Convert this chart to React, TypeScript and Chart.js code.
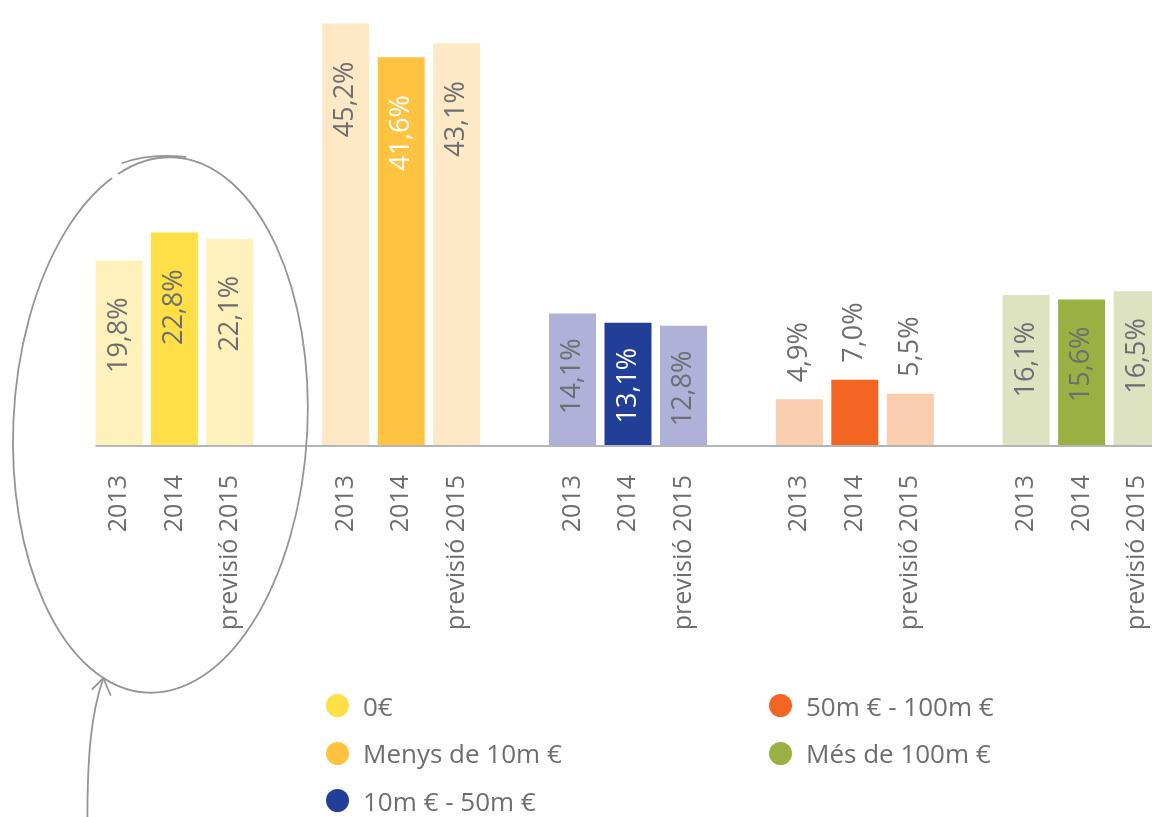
import React, { useEffect, useRef } from 'react';
import { Chart, registerables } from 'chart.js';

Chart.register(...registerables);

// ---- data ----
const groups = ['0€', 'Menys de 10m €', '10m € - 50m €', '50m € - 100m €', 'Més de 100m €'];
const periods = ['2013', '2014', 'previsió 2015'];
const values2013 = [19.8, 45.2, 14.1, 4.9, 16.1];
const values2014 = [22.8, 41.6, 13.1, 7.0, 15.6];
const values2015 = [22.1, 43.1, 12.8, 5.5, 16.5];

// ---- style ----
const lightColors = ['#FFF1BC', '#FEE8C6', '#AFB1D8', '#F9CDAD', '#DDE3C1'];
const darkColors = ['#FFDF47', '#FFC341', '#223F98', '#F26522', '#9AB042'];
const darkLabelColors = ['#6D6E71', '#FFFFFF', '#FFFFFF', '#6D6E71', '#6D6E71'];
const labelInsets = [37, 38, 25, -17, 27]; // negative: label sits above the bar
const TEXT = '#6D6E71';
const FONT = '"Open Sans", "Noto Sans", sans-serif';
const legendOrder = [0, 1, 2, 3, 4];

const fmt = (v: number) => v.toFixed(1).replace('.', ',') + '%';

const decorPlugin = {
  id: 'decor',
  beforeDatasetsDraw(chart: any) {
    const ctx = chart.ctx;
    const first = chart.getDatasetMeta(0).data[0];
    const y0 = chart.scales.y.getPixelForValue(0);
    ctx.save();
    ctx.strokeStyle = '#B5B5B7';
    ctx.lineWidth = 2;
    ctx.beginPath();
    ctx.moveTo(first.x - first.width / 2, y0 + 1);
    ctx.lineTo(chart.width, y0 + 1);
    ctx.stroke();
    ctx.restore();
  },
  afterDatasetsDraw(chart: any) {
    const ctx = chart.ctx;
    const y0 = chart.scales.y.getPixelForValue(0);
    chart.data.datasets.forEach((ds: any, di: number) => {
      const meta = chart.getDatasetMeta(di);
      meta.data.forEach((bar: any, gi: number) => {
        const v = ds.data[gi];
        const inset = labelInsets[gi];
        ctx.save();
        ctx.translate(bar.x, bar.y + inset);
        ctx.rotate(-Math.PI / 2);
        ctx.font = `27px ${FONT}`;
        ctx.textAlign = inset >= 0 ? 'right' : 'left';
        ctx.textBaseline = 'middle';
        ctx.fillStyle = di === 1 ? darkLabelColors[gi] : TEXT;
        ctx.fillText(fmt(v), 0, 0);
        ctx.restore();

        ctx.save();
        ctx.translate(bar.x, y0 + 30);
        ctx.rotate(-Math.PI / 2);
        ctx.font = `25px ${FONT}`;
        ctx.textAlign = 'right';
        ctx.textBaseline = 'middle';
        ctx.fillStyle = TEXT;
        ctx.fillText(periods[di], 0, 0);
        ctx.restore();
      });
    });

    // hand-drawn highlight around the first group
    const gx = chart.scales.x.getPixelForValue(0);
    const cx = gx - 14;
    const cy = y0 - 20;
    ctx.save();
    ctx.strokeStyle = '#939598';
    ctx.lineWidth = 1.8;
    ctx.lineCap = 'round';
    ctx.beginPath();
    ctx.ellipse(cx, cy, 147, 268, 0.05, -1.95, -1.95 + Math.PI * 2 - 0.05);
    ctx.stroke();
    ctx.beginPath();
    ctx.moveTo(cx - 38, cy - 262);
    ctx.quadraticCurveTo(cx - 10, cy - 272, cx + 25, cy - 268);
    ctx.stroke();
    // arrow
    ctx.beginPath();
    ctx.moveTo(cx - 73, cy + 395);
    ctx.bezierCurveTo(cx - 73, cy + 335, cx - 70, cy + 290, cx - 57, cy + 253);
    ctx.stroke();
    ctx.beginPath();
    ctx.moveTo(cx - 68, cy + 264);
    ctx.lineTo(cx - 57, cy + 253);
    ctx.lineTo(cx - 50, cy + 270);
    ctx.stroke();
    ctx.restore();
  },
};

export default function App() {
  const canvasRef = useRef<HTMLCanvasElement | null>(null);

  useEffect(() => {
    const canvas = canvasRef.current;
    if (!canvas) return;
    const mk = (label: string, data: number[], colors: string[]) => ({
      label,
      data,
      backgroundColor: colors,
      borderWidth: 0,
      categoryPercentage: 0.7341,
      barPercentage: 0.8468,
    });
    const chart = new Chart(canvas, {
      type: 'bar',
      data: {
        labels: groups,
        datasets: [
          mk(periods[0], values2013, lightColors),
          mk(periods[1], values2014, darkColors),
          mk(periods[2], values2015, lightColors),
        ],
      },
      options: {
        responsive: false,
        animation: false,
        devicePixelRatio: 1,
        layout: { padding: { left: 61, right: 0, top: 18, bottom: 372 } },
        plugins: { legend: { display: false }, tooltip: { enabled: false } },
        scales: {
          x: { display: false },
          y: { display: false, min: 0, max: 45.8 },
        },
      },
      plugins: [decorPlugin],
    });
    return () => chart.destroy();
  }, []);

  return (
    <div style={{ position: 'fixed', left: 0, top: 0, width: '100vw', height: '100vh', overflow: 'hidden', background: '#fff' }}>
      <canvas ref={canvasRef} width={1195} height={817} style={{ position: 'absolute', left: 0, top: 0, width: 1195, height: 817 }} />
      <div
        style={{
          position: 'absolute',
          left: 326,
          top: 682,
          display: 'grid',
          gridAutoFlow: 'column',
          gridTemplateRows: 'repeat(3, 47.5px)',
          gridTemplateColumns: '443px auto',
          fontFamily: FONT,
          fontWeight: 400,
          fontSize: 26,
          color: TEXT,
        }}
      >
        {legendOrder.map((i) => (
          <div key={i} style={{ display: 'flex', alignItems: 'center', whiteSpace: 'nowrap' }}>
            <span style={{ width: 23, height: 23, borderRadius: '50%', background: darkColors[i], display: 'inline-block', marginRight: 14, flex: '0 0 auto' }} />
            <span>{groups[i]}</span>
          </div>
        ))}
      </div>
    </div>
  );
}
